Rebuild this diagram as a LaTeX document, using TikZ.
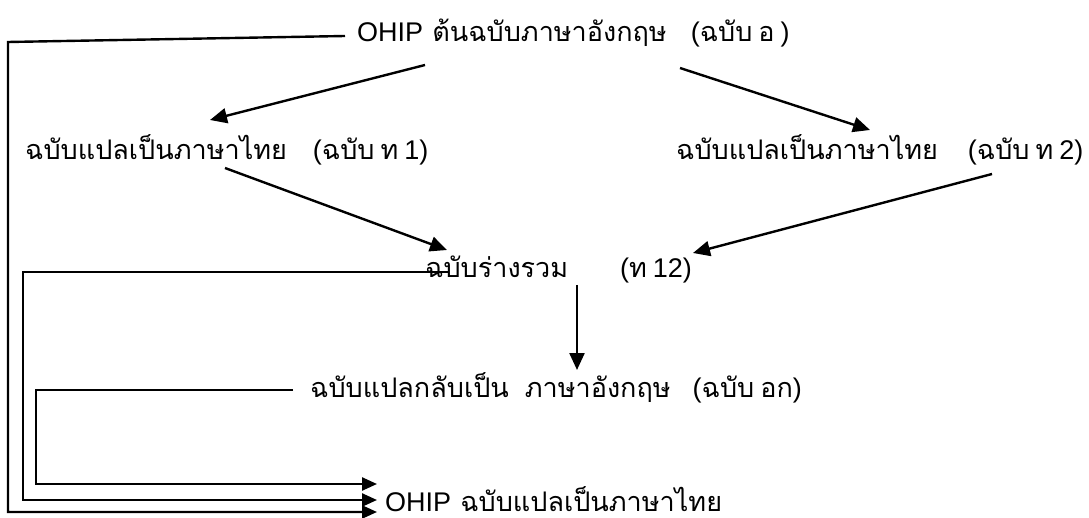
\documentclass[tikz,border=0pt]{standalone}
\usepackage{fontspec}
\setmainfont[Script=Thai]{Loma}
\newfontfamily\lat{Liberation Sans}
\usetikzlibrary{arrows.meta,calc}
\newcommand{\gapsp}{\hspace{6pt}}
\begin{document}
\begin{tikzpicture}[x=1pt,y=-1pt,
  lbl/.style={inner sep=0pt, anchor=base west, font=\fontsize{27}{29}\selectfont},
  flow/.style={line width=2.4pt, -{Triangle[length=17pt,width=15pt]}},
  rail/.style={line width=2.4pt, -{Triangle[length=15pt,width=13pt]}}]
\useasboundingbox (0,0) rectangle (1089,518);

% document versions
\node[lbl] (src) at (357,42) {{\lat OHIP} ต้นฉบับภาษาอังกฤษ\hspace{24pt}{\lat (}ฉบับ\gapsp อ\gapsp{\lat )}};
\node[lbl] (th1) at (25,160) {ฉบับแปลเป็นภาษาไทย\hspace{26pt}{\lat (}ฉบับ\gapsp ท\gapsp{\lat 1)}};
\node[lbl] (th2) at (676,160) {ฉบับแปลเป็นภาษาไทย\hspace{30pt}{\lat (}ฉบับ\gapsp ท\gapsp{\lat 2)}};
\node[lbl] (mrg) at (425,278) {ฉบับร่างรวม\hspace{52pt}{\lat (}ท\gapsp{\lat 12)}};
\node[lbl] (bk) at (310,397) {ฉบับแปลกลับเป็น\hspace{16pt}ภาษาอังกฤษ\hspace{22pt}{\lat (}ฉบับ\gapsp อก{\lat )}};
\node[lbl] (fin) at (385,511) {{\lat OHIP} ฉบับแปลเป็นภาษาไทย};

% translation flow
\draw[flow] ($(src.base west)+(68,23)$) -- ($(th1.base west)+(185,-40)$);
\draw[flow] ($(src.base west)+(323,26)$) -- ($(th2.base west)+(194,-30)$);
\draw[flow] ($(th1.base west)+(200,8)$) -- ($(mrg.base west)+(22,-28)$);
\draw[flow] ($(th2.base west)+(316,14)$) -- ($(mrg.base west)+(268,-25)$);
\draw[flow] ($(mrg.base west)+(152,7)$) -- ($(bk.base west)+(267,-27)$);

% feeds into the final Thai version
\coordinate (srcOut) at ($(src.base west)+(-12,-6)$);
\coordinate (mrgOut) at ($(mrg.base west)+(23,-6)$);
\coordinate (bkOut)  at ($(bk.base west)+(-17,-7)$);
\coordinate (finA) at ($(fin.base west)+(-8,1)$);
\coordinate (finB) at ($(fin.base west)+(-8,-11)$);
\coordinate (finC) at ($(fin.base west)+(-8,-27)$);
\coordinate (colA) at (8,42);
\coordinate (colB) at (23,0);
\coordinate (colC) at (36,0);

\draw[rail] (srcOut) -- (colA) -- (colA |- finA) -- (finA);
\draw[rail] (mrgOut) -- (colB |- mrgOut) -- (colB |- finB) -- (finB);
\draw[rail] (bkOut) -- (colC |- bkOut) -- (colC |- finC) -- (finC);
\end{tikzpicture}
\end{document}
